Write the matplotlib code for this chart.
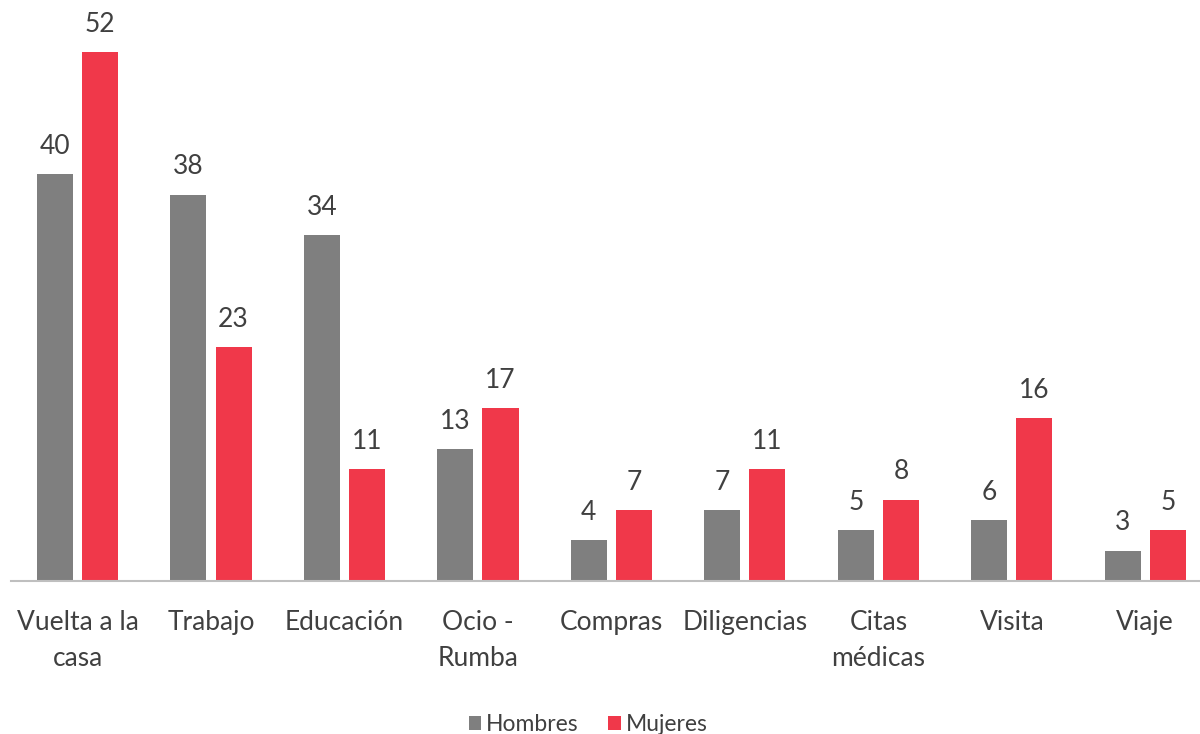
import numpy as np
import matplotlib.pyplot as plt

plt.rcParams['font.family'] = ['Lato', 'DejaVu Sans']

categorias = ["Vuelta a la\ncasa", "Trabajo", "Educación", "Ocio -\nRumba", "Compras",
              "Diligencias", "Citas\nmédicas", "Visita", "Viaje"]
hombres = [40, 38, 34, 13, 4, 7, 5, 6, 3]
mujeres = [52, 23, 11, 17, 7, 11, 8, 16, 5]

GRIS = "#7f7f7f"
ROJO = "#f0384a"
TEXTO = "#404040"

fig = plt.figure(figsize=(12, 7.34), dpi=100)
ax = fig.add_axes([0.009, 0.2084, 0.991, 0.776])

x = np.arange(len(categorias))
w = 0.27
off = 0.169
b1 = ax.bar(x - off, hombres, w, color=GRIS, label="Hombres")
b2 = ax.bar(x + off, mujeres, w, color=ROJO, label="Mujeres")

for bars, vals in ((b1, hombres), (b2, mujeres)):
    for r, v in zip(bars, vals):
        ax.annotate(str(v), (r.get_x() + r.get_width() / 2, v), xytext=(0, 11),
                    textcoords="offset points", ha="center", va="bottom",
                    fontsize=19, color=TEXTO)

ax.set_xlim(-0.5, 8.41)
ax.set_ylim(0, 56)
ax.set_xticks(x)
ax.set_xticklabels(categorias, fontsize=19, color=TEXTO, linespacing=1.55)
ax.tick_params(axis="x", length=0, pad=21)
ax.set_yticks([])
for s in ("top", "right", "left"):
    ax.spines[s].set_visible(False)
ax.spines["bottom"].set_color("#bfbfbf")
ax.spines["bottom"].set_linewidth(1.5)

fig.legend(loc="lower center", bbox_to_anchor=(0.49, -0.03), ncol=2, frameon=False,
           fontsize=16.5, handlelength=0.55, handleheight=0.55, handletextpad=0.2,
           columnspacing=1.3, labelcolor=TEXTO)

fig.savefig("out.png", dpi=100)
